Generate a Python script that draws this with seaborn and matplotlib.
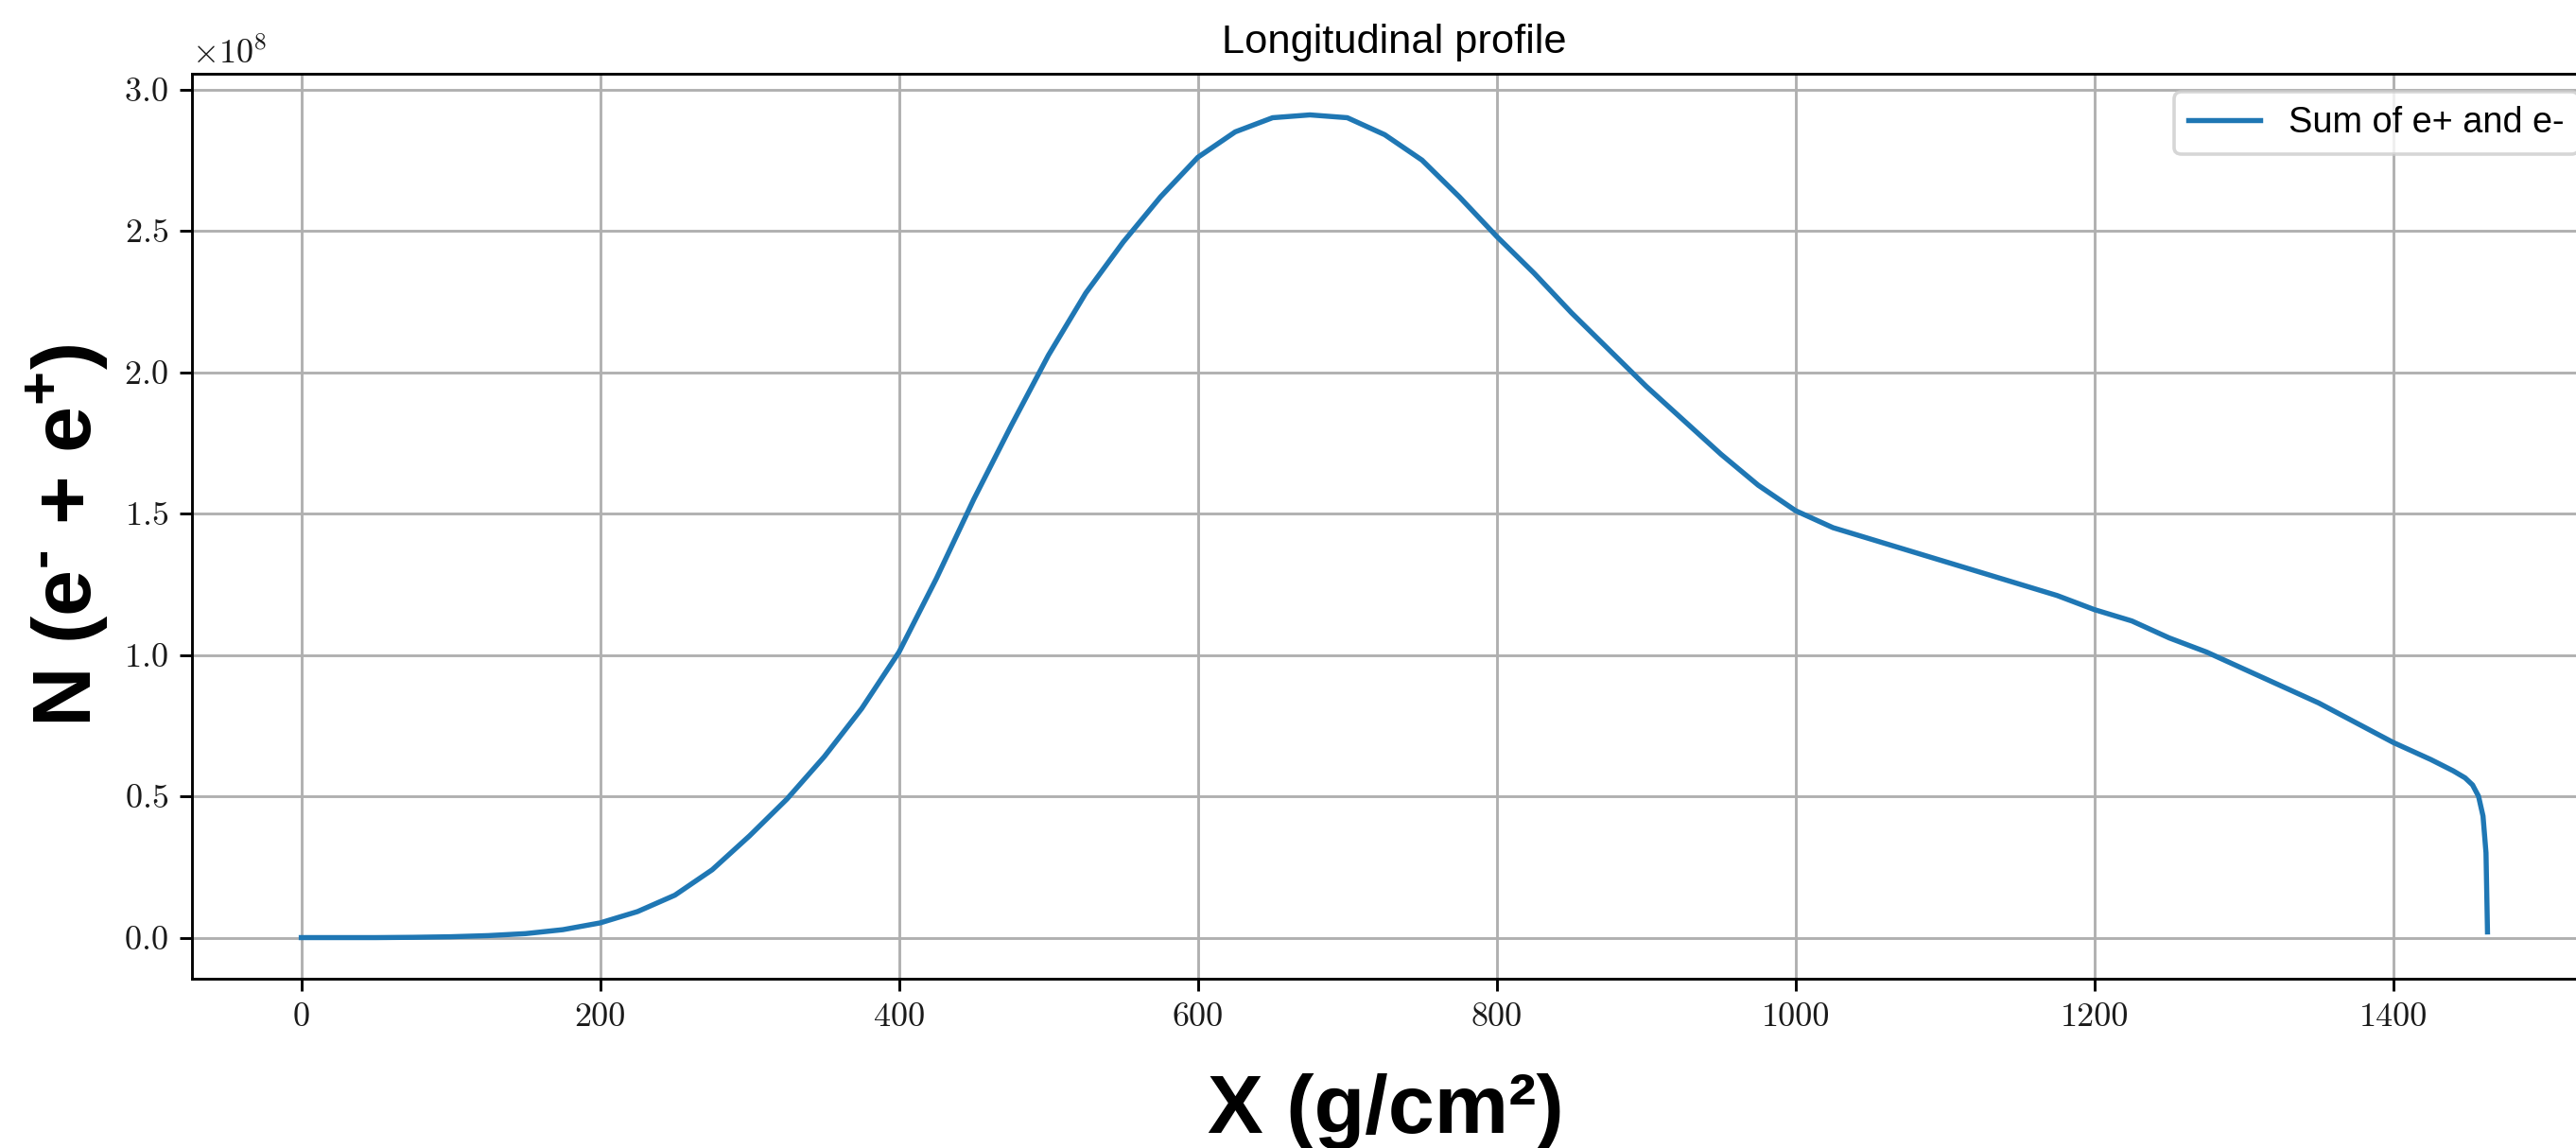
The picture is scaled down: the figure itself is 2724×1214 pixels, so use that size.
import matplotlib
matplotlib.use("Agg")
import matplotlib.pyplot as plt
import numpy as np
import pandas as pd
import seaborn as sns
from matplotlib.ticker import ScalarFormatter

# Slant depth (g/cm^2) and number of charged leptons (units of 1e8)
depth = [0, 25, 50, 75, 100, 125, 150, 175, 200, 225, 250, 275, 300, 325,
         350, 375, 400, 425, 450, 475, 500, 525, 550, 575, 600, 625, 650,
         675, 700, 725, 750, 775, 800, 825, 850, 875, 900, 925, 950, 975,
         1000, 1025, 1050, 1075, 1100, 1125, 1150, 1175, 1200, 1225, 1250,
         1275, 1300, 1325, 1350, 1375, 1400, 1425, 1440, 1448, 1453, 1457,
         1460, 1462, 1463]
particles_1e8 = [0.0, 0.0, 0.0, 0.001, 0.003, 0.007, 0.014, 0.028, 0.052,
                 0.092, 0.15, 0.24, 0.36, 0.49, 0.64, 0.81, 1.01, 1.27,
                 1.55, 1.81, 2.06, 2.28, 2.46, 2.62, 2.76, 2.85, 2.90, 2.91,
                 2.90, 2.84, 2.75, 2.62, 2.48, 2.35, 2.21, 2.08, 1.95, 1.83,
                 1.71, 1.60, 1.51, 1.45, 1.41, 1.37, 1.33, 1.29, 1.25, 1.21,
                 1.16, 1.12, 1.06, 1.01, 0.95, 0.89, 0.83, 0.76, 0.69, 0.63,
                 0.59, 0.565, 0.54, 0.50, 0.43, 0.30, 0.02]

series_label = "Sum of e+ and e-"
title_text = "Longitudinal profile"
x_label = "X (g/cm²)"
y_label = "N (e$^{\u2010}$ + e$^{+}$)"

plt.rcParams.update({
    "font.family": ["Liberation Sans", "DejaVu Sans"],
    "mathtext.fontset": "cm",
    "mathtext.rm": "Liberation Sans:bold",
    "mathtext.it": "Liberation Sans:bold",
    "mathtext.bf": "Liberation Sans:bold",
    "mathtext.sf": "Liberation Sans:bold",
    "axes.linewidth": 0.8,
    "axes.edgecolor": "black",
})

fig = plt.figure(figsize=(2724 / 260, 1214 / 260), dpi=260)
ax = fig.add_axes([203 / 2724, 179 / 1214, 2543 / 2724, 957 / 1214])

df = pd.DataFrame({"X": depth, "N": np.array(particles_1e8) * 1e8})
sns.lineplot(data=df, x="X", y="N", ax=ax, color="#1f77b4", linewidth=1.5,
             label=series_label, estimator=None, sort=False)

ax.set_xlabel("")
ax.set_ylabel("")
ax.grid(True, color="#b0b0b0", linewidth=0.8)

fmt = ScalarFormatter(useMathText=True)
ax.yaxis.set_major_formatter(fmt)
ax.tick_params(labelfontfamily="cmr10", labelsize=10, direction="out",
               length=3.5, width=0.8, color="black", labelcolor="#1a1a1a")
ax.yaxis.get_offset_text().set_fontfamily("cmr10")
ax.yaxis.get_offset_text().set_fontsize(10)
ax.yaxis.get_offset_text().set_color("#1a1a1a")

ax.set_title(title_text, fontsize=12, family="Liberation Sans")
ax.legend(loc="upper right", prop={"family": "Liberation Sans", "size": 10.5})

fig.text(1465 / 2724, 16 / 1214, x_label, ha="center", va="baseline",
         fontsize=24.4, fontweight="bold", family="Liberation Sans")
fig.text(97 / 2724, (1214 - 566) / 1214, y_label, rotation=90,
         rotation_mode="anchor", ha="center", va="baseline",
         fontsize=24.4, fontweight="bold", family="Liberation Sans",
         math_fontfamily="custom")

fig.savefig("out.png", dpi=260)
